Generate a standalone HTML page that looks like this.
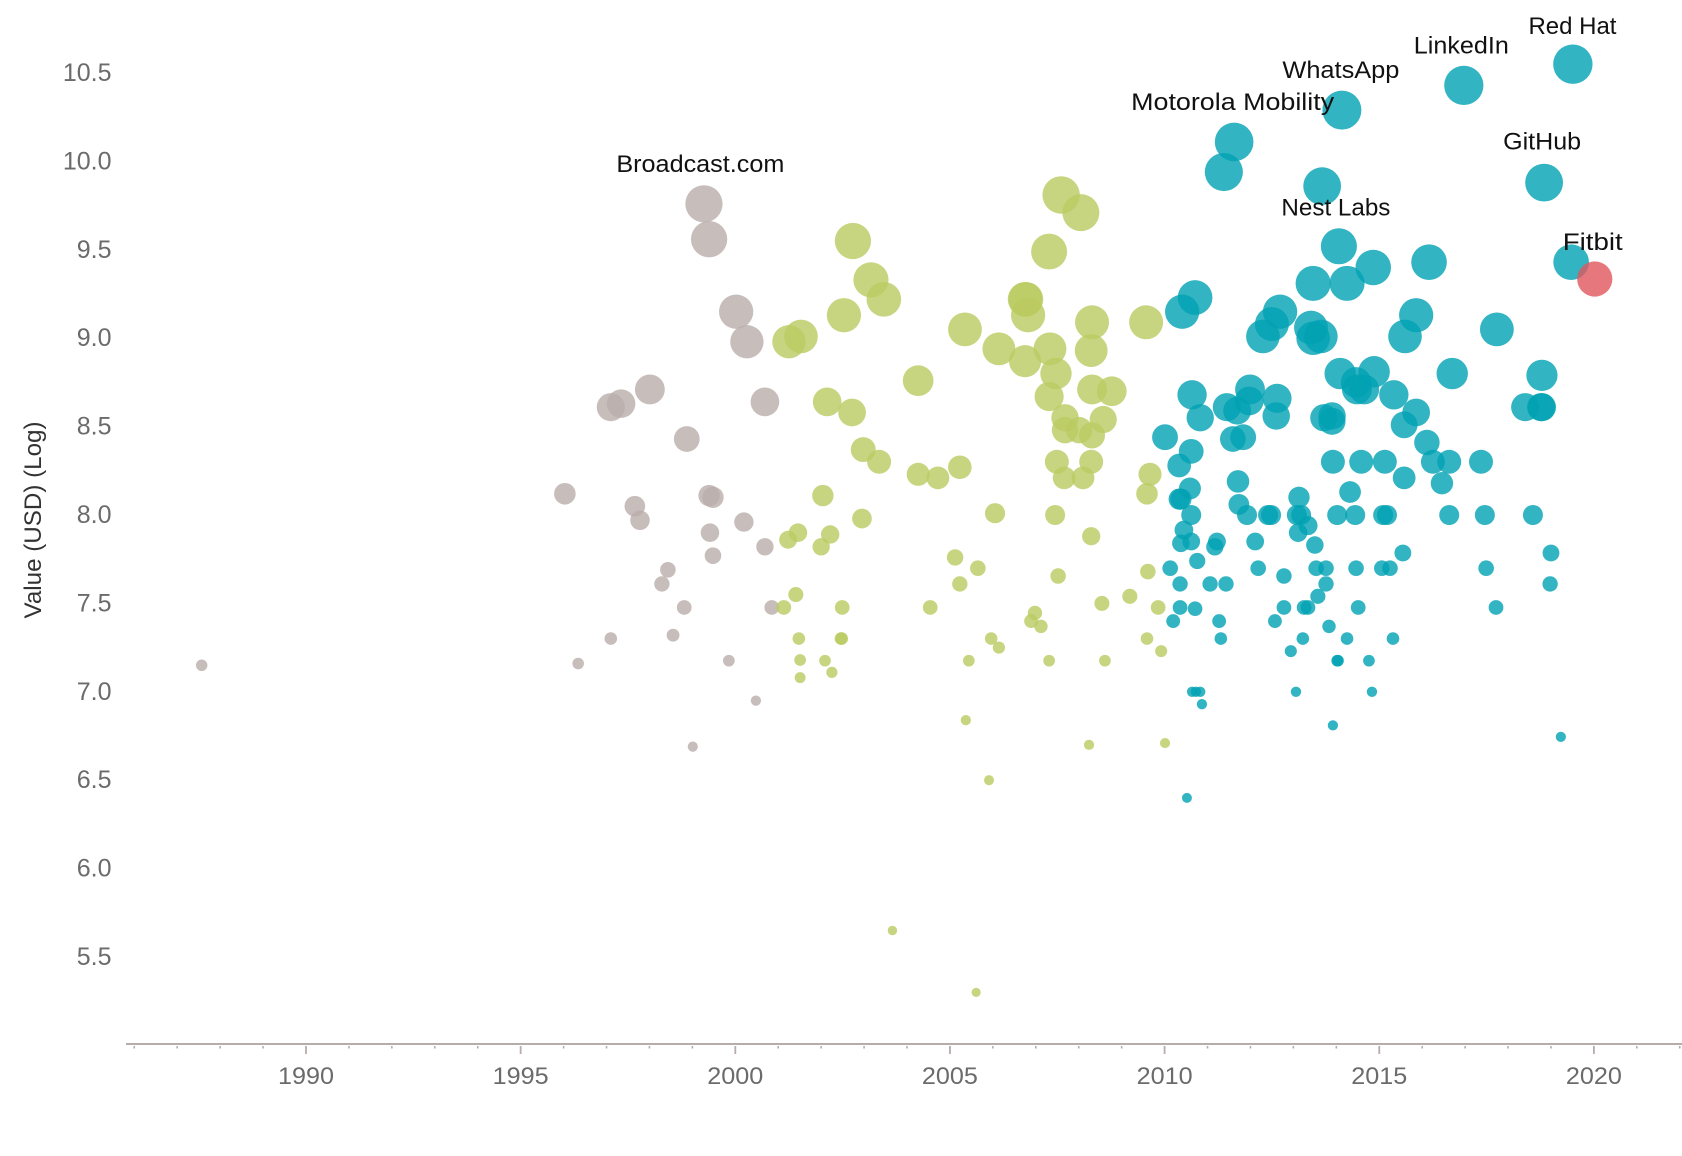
<!DOCTYPE html>
<html lang="en">
<head>
<meta charset="utf-8">
<title>Company value by year</title>
<style>
html,body{margin:0;padding:0;background:#fff;}
body{width:1682px;height:1156px;overflow:hidden;}
svg{display:block;font-family:"Liberation Sans",sans-serif;}
</style>
</head>
<body>
<svg id="chart" xmlns="http://www.w3.org/2000/svg" width="1682" height="1156" viewBox="0 0 1682 1156"></svg>
<script>
const greyYears = [1999.27,1999.39,2000.02,2000.27,1998.01,1997.34,1997.10,2000.69,1998.87,1996.03,
  1997.66,1997.78,1999.39,1999.48,1999.41,2000.20,1999.48,2000.69,1998.43,1998.29,
  1998.81,2000.85,1997.10,1998.55,1996.34,1999.85,2000.48,1999.01,1987.57];
const greyValues = [9.76,9.56,9.15,8.98,8.71,8.63,8.61,8.64,8.43,8.12,
  8.05,7.97,8.11,8.10,7.90,7.96,7.77,7.82,7.69,7.61,
  7.477,7.477,7.301,7.32,7.16,7.176,6.95,6.69,7.15];

const greenYears = [2002.74,2003.16,2003.46,2002.53,2001.25,2001.53,2004.26,2002.14,2002.72,2002.98,
  2003.35,2004.26,2004.72,2005.23,2002.04,2002.95,2006.05,2007.45,2005.35,2006.14,
  2006.75,2006.77,2006.75,2006.82,2007.33,2007.47,2007.31,2007.31,2007.59,2008.05,
  2008.31,2009.57,2008.29,2008.77,2008.31,2007.68,2008.57,2007.68,2008.01,2008.31,
  2007.49,2008.29,2007.66,2008.10,2009.66,2009.59,2008.29,2005.12,2005.65,2005.23,
  2007.52,2009.61,2009.19,2008.54,2009.85,2009.59,2009.92,2008.61,2010.01,2008.24,
  2001.23,2001.46,2002.21,2002.00,2001.41,2001.13,2002.49,2004.54,2006.98,2006.89,
  2007.12,2001.48,2002.46,2002.48,2005.96,2006.14,2001.51,2002.09,2002.25,2001.51,
  2005.44,2007.31,2005.37,2005.91,2003.66,2005.61];
const greenValues = [9.55,9.33,9.22,9.13,8.98,9.01,8.76,8.64,8.58,8.37,
  8.301,8.23,8.21,8.27,8.11,7.98,8.01,8.0,9.05,8.94,
  8.87,9.22,9.22,9.13,8.94,8.80,8.67,9.49,9.81,9.71,
  9.09,9.09,8.93,8.70,8.71,8.55,8.54,8.48,8.48,8.45,
  8.301,8.301,8.21,8.21,8.23,8.12,7.88,7.76,7.699,7.61,
  7.655,7.68,7.54,7.50,7.477,7.301,7.23,7.176,6.71,6.70,
  7.86,7.90,7.89,7.82,7.55,7.477,7.477,7.477,7.446,7.40,
  7.37,7.301,7.301,7.301,7.301,7.25,7.18,7.176,7.11,7.08,
  7.176,7.176,6.84,6.50,5.65,5.30];

const tealYears = [2019.51,2016.97,2014.13,2011.62,2011.38,2013.67,2018.84,2014.06,2019.47,2016.16,
  2014.86,2013.46,2014.25,2010.71,2010.41,2012.69,2012.50,2012.29,2013.41,2013.46,
  2013.64,2015.86,2015.60,2017.74,2016.70,2018.79,2014.09,2014.88,2014.46,2014.48,
  2014.65,2015.34,2015.86,2015.58,2018.40,2018.77,2018.79,2010.64,2010.83,2011.99,
  2011.97,2011.45,2011.69,2012.62,2012.60,2013.71,2013.90,2013.90,2010.01,2011.59,
  2011.83,2010.62,2010.34,2016.11,2016.25,2016.63,2017.37,2013.92,2014.58,2015.13,
  2015.58,2016.46,2014.32,2011.71,2010.59,2010.34,2010.38,2013.13,2011.73,2011.92,
  2010.62,2012.41,2012.48,2013.08,2013.18,2013.34,2013.11,2014.02,2014.44,2015.09,
  2015.18,2016.63,2017.46,2018.58,2010.45,2010.62,2010.38,2011.22,2011.17,2012.11,
  2013.50,2015.55,2010.76,2019.00,2010.13,2012.18,2012.78,2013.53,2013.76,2014.46,
  2015.06,2015.25,2017.49,2010.36,2011.06,2011.43,2013.76,2018.98,2013.57,2010.36,
  2010.71,2012.78,2013.25,2013.34,2014.51,2017.72,2010.20,2011.27,2012.57,2013.83,
  2011.31,2013.22,2014.25,2015.32,2012.94,2014.02,2014.04,2014.76,2010.64,2010.73,
  2010.83,2013.06,2014.83,2010.87,2013.92,2019.23,2010.52];
const tealValues = [10.55,10.43,10.29,10.11,9.94,9.86,9.88,9.52,9.43,9.43,
  9.40,9.31,9.31,9.23,9.15,9.15,9.08,9.01,9.06,9.00,
  9.01,9.13,9.01,9.05,8.80,8.79,8.80,8.81,8.75,8.71,
  8.71,8.68,8.58,8.51,8.61,8.61,8.61,8.68,8.55,8.71,
  8.645,8.61,8.59,8.66,8.56,8.55,8.56,8.53,8.44,8.43,
  8.44,8.36,8.28,8.41,8.301,8.301,8.301,8.301,8.301,8.301,
  8.21,8.18,8.13,8.19,8.15,8.09,8.09,8.10,8.06,8.0,
  8.0,8.0,8.0,8.0,8.0,7.94,7.90,8.0,8.0,8.0,
  8.0,8.0,8.0,8.0,7.915,7.85,7.84,7.85,7.82,7.85,
  7.83,7.785,7.74,7.785,7.699,7.699,7.655,7.699,7.699,7.699,
  7.699,7.699,7.699,7.61,7.61,7.61,7.61,7.61,7.54,7.477,
  7.47,7.477,7.477,7.477,7.477,7.477,7.40,7.40,7.40,7.37,
  7.301,7.301,7.301,7.301,7.23,7.176,7.176,7.176,7.0,7.0,
  7.0,7.0,7.0,6.93,6.81,6.745,6.40];

const redYears = [2020.02];
const redValues = [9.335];

const yTickLabels = ['10.5','10.0','9.5','9.0','8.5','8.0','7.5','7.0','6.5','6.0','5.5'];
const xTickLabels = ['1990','1995','2000','2005','2010','2015','2020'];
const minorTickYears = [1986,1987,1988,1989,1991,1992,1993,1994,1996,1997,1998,1999,2001,2002,2003,2004,2006,2007,2008,2009,2011,2012,2013,2014,2016,2017,2018,2019,2021,2022];

const labelNames = ['Broadcast.com','Motorola Mobility','WhatsApp','LinkedIn','Red Hat','GitHub','Nest Labs','Fitbit'];
const labelSeries = ['grey','teal','teal','teal','teal','teal','teal','red'];
const labelPointIndex = [0,3,2,1,0,6,7,0];

const svg = document.getElementById('chart');
const NS = 'http://www.w3.org/2000/svg';

function xScale(year){ return 306 + (year - 1990) * 42.93; }
function yScale(value){ return 515 + (8 - value) * 176.8; }
function rScale(value){
  const d = [5.3,7.0,7.3,7.5,7.7,8.0,8.3,8.6,8.8,9.0,9.5,10.0,10.5];
  const r = [4.6,5.2,6.3,7.5,7.8,10,12,14,15.7,16.8,18,19.2,19.7];
  if(value <= d[0]) return r[0];
  for(let i = 1; i < d.length; i++){
    if(value <= d[i]) return r[i-1] + (r[i]-r[i-1]) * (value-d[i-1]) / (d[i]-d[i-1]);
  }
  return r[r.length-1];
}

function drawSeries(name, years, values, fill){
  const g = document.createElementNS(NS,'g');
  
  
  years.forEach(function(year, i){
    const c = document.createElementNS(NS,'circle');
    c.setAttribute('cx', xScale(year));
    c.setAttribute('cy', yScale(values[i]));
    c.setAttribute('r', rScale(values[i]));
    c.setAttribute('fill', fill);
    c.setAttribute('fill-opacity', '0.8');
    
    
    g.appendChild(c);
  });
  svg.appendChild(g);
}

function addText(str, x, y, anchor, fill, size){
  const t = document.createElementNS(NS,'text');
  t.textContent = str;
  t.setAttribute('x', x);
  t.setAttribute('y', y);
  t.setAttribute('text-anchor', anchor);
  t.setAttribute('fill', fill);
  t.setAttribute('font-size', size);
  svg.appendChild(t);
  return t;
}

function addLine(x1, y1, x2, y2, width){
  const l = document.createElementNS(NS,'line');
  l.setAttribute('x1', x1);
  l.setAttribute('y1', y1);
  l.setAttribute('x2', x2);
  l.setAttribute('y2', y2);
  l.setAttribute('stroke', '#b6adaa');
  l.setAttribute('stroke-width', width);
  svg.appendChild(l);
  return l;
}

// axis
const axisLine = addLine(126, 1044, 1682, 1044, 2);



minorTickYears.forEach(function(year){
  const m = addLine(xScale(year), 1046, xScale(year), 1048.5, 1.6);
  
  
});

xTickLabels.forEach(function(label){
  const x = xScale(Number(label));
  const tick = addLine(x, 1046, x, 1054, 1.8);
  
  
  const t = addText(label, x, 1084, 'middle', '#6b6b6b', 24);
  t.setAttribute('textLength', '56');
  t.setAttribute('lengthAdjust', 'spacingAndGlyphs');
  
  
});

yTickLabels.forEach(function(label){
  const t = addText(label, 111.5, yScale(Number(label)) + 8, 'end', '#6b6b6b', 25);
  
  
});

const yTitle = addText('Value (USD) (Log)', 0, 0, 'middle', '#333333', 24);
yTitle.setAttribute('transform', 'translate(41,520) rotate(-90)');
yTitle.setAttribute('textLength', '197');
yTitle.setAttribute('lengthAdjust', 'spacingAndGlyphs');



// series
drawSeries('grey', greyYears, greyValues, '#b9aeab');
drawSeries('green', greenYears, greenValues, '#baca60');
drawSeries('teal', tealYears, tealValues, '#00a1b3');
drawSeries('red', redYears, redValues, '#e0565c');

// labels
const seriesLookup = {
  grey: [greyYears, greyValues],
  teal: [tealYears, tealValues],
  red: [redYears, redValues]
};
function labelOffsetX(i){ return [-3.6,-1.5,-1,-2.5,-0.4,-2,-3,-2][i]; }
function labelOffsetY(i){ return [-32,-32,-32,-32,-30,-33,-31,-29][i]; }
function labelWidth(i){ return [168,203,117,95,88,78,109,60][i]; }
labelNames.forEach(function(name, i){
  const s = seriesLookup[labelSeries[i]];
  const idx = labelPointIndex[i];
  const t = addText(name, xScale(s[0][idx]) + labelOffsetX(i), yScale(s[1][idx]) + labelOffsetY(i), 'middle', '#111111', 24);
  t.setAttribute('textLength', labelWidth(i));
  t.setAttribute('lengthAdjust', 'spacingAndGlyphs');
  
  
});
</script>
</body>
</html>
